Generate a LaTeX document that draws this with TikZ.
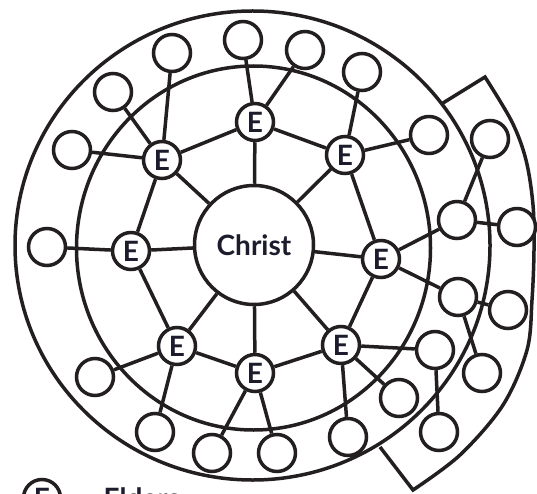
\documentclass[tikz,border=0pt]{standalone}
\usepackage{fontspec}
\setmainfont{Lato}
\definecolor{ink}{RGB}{35,31,32}
\definecolor{txt}{RGB}{28,28,45}
\tikzset{
  ring/.style={draw=ink, line width=3.5pt},
  link/.style={draw=ink, line width=3.5pt},
  member/.style={circle, draw=ink, fill=white, line width=3.5pt, minimum size=37pt, inner sep=0pt},
  elder/.style={member, text=txt, font=\bfseries\fontsize{28}{28}\selectfont},
  christ/.style={circle, draw=ink, fill=white, line width=3.5pt, minimum size=119pt, inner sep=0pt, text=txt, font=\bfseries\fontsize{28}{28}\selectfont}
}
\begin{document}
\begin{tikzpicture}[x=1pt,y=-1pt]
\useasboundingbox (0,0) rectangle (537,494);
\clip (0,0) rectangle (537,494);
\fill[white] (0,0) rectangle (537,494);
% rings
\draw[ring] (252.5,245.5) ellipse [x radius=237.5pt, y radius=234.5pt];
\draw[ring] (253.5,248) ellipse [x radius=177pt, y radius=182pt];
% extra sector
\draw[ring, line join=miter] (443,103) -- plot[smooth, tension=0.55] coordinates {(485,77) (512,122) (526,160) (533,205) (534,250) (532,300) (527,350) (503,405) (460,455) (413,490)} -- (380,447);
% centre
\node[christ] (C) at (254,245) {Christ};
% elders
\node[elder] (e1) at (255,122) {E};
\node[elder] (e2) at (345,155) {E};
\node[elder] (e3) at (381,259) {E};
\node[elder] (e4) at (341,345) {E};
\node[elder] (e5) at (255,373) {E};
\node[elder] (e6) at (177,346) {E};
\node[elder] (e7) at (131,251) {E};
\node[elder] (e8) at (162,160) {E};
% members
\node[member] (c1) at (47,247) {};
\node[member] (c2) at (72,150) {};
\node[member] (c3) at (113,92) {};
\node[member] (c4) at (172,53) {};
\node[member] (c5) at (243,40) {};
\node[member] (c6) at (305,50) {};
\node[member] (c7) at (362,72) {};
\node[member] (c8) at (429,135) {};
\node[member] (c9) at (490,139) {};
\node[member] (c10) at (457,220) {};
\node[member] (c11) at (517,227) {};
\node[member] (c12) at (458,297) {};
\node[member] (c13) at (508,310) {};
\node[member] (c14) at (482,373) {};
\node[member] (c15) at (435,350) {};
\node[member] (c16) at (439,432) {};
\node[member] (c17) at (399,398) {};
\node[member] (c18) at (348,437) {};
\node[member] (c19) at (277,453) {};
\node[member] (c20) at (212,453) {};
\node[member] (c21) at (155,432) {};
\node[member] (c22) at (95,377) {};
% legend
\node[elder] (le) at (42,498) {E};
\node[anchor=base west, text=txt, font=\bfseries\fontsize{28}{28}\selectfont] (lt) at (100,508) {Elders};
% spokes
\foreach \e in {e1,e2,e3,e4,e5,e6,e7,e8} \draw[link] (C) -- (\e);
% elder ring
\draw[link] (e1) -- (e2);
\draw[link] (e2) -- (e3);
\draw[link] (e3) -- (e4);
\draw[link] (e4) -- (e5);
\draw[link] (e5) -- (e6);
\draw[link] (e6) -- (e7);
\draw[link] (e7) -- (e8);
\draw[link] (e8) -- (e1);
% elder to members
\draw[link] (e7) -- (c1);
\draw[link] (e8) -- (c2);
\draw[link] (e8) -- (c3);
\draw[link] (e8) -- (c4);
\draw[link] (e1) -- (c5);
\draw[link] (e1) -- (c6);
\draw[link] (e2) -- (c7);
\draw[link] (e2) -- (c8);
\draw[link] (e3) -- (c10);
\draw[link] (e3) -- (c12);
\draw[link] (c10) -- (c9);
\draw[link] (c10) -- (c11);
\draw[link] (c12) -- (c13);
\draw[link] (c12) -- (c14);
\draw[link] (e4) -- (c15);
\draw[link] (e4) -- (c17);
\draw[link] (e4) -- (c18);
\draw[link] (c15) -- (c16);
\draw[link] (e5) -- (c19);
\draw[link] (e5) -- (c20);
\draw[link] (e6) -- (c21);
\draw[link] (e6) -- (c22);
\end{tikzpicture}
\end{document}
